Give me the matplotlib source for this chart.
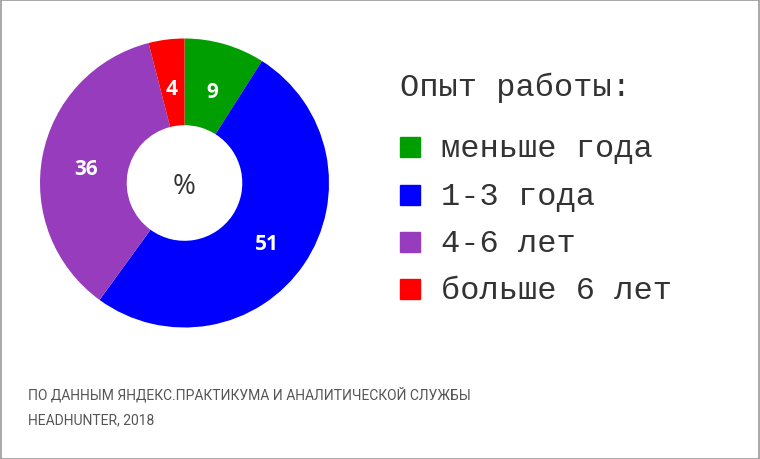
import matplotlib
matplotlib.use("Agg")
import matplotlib.pyplot as plt
from matplotlib.patches import Rectangle
from matplotlib import font_manager

# данные
categories = ["меньше года", "1-3 года", "4-6 лет", "больше 6 лет"]
values = [9, 51, 36, 4]
colors = ["#009e00", "#0000ff", "#963cbd", "#ff0000"]
legend_title = "Опыт работы:"
center_text = "%"
footer = "ПО ДАННЫМ ЯНДЕКС.ПРАКТИКУМА И АНАЛИТИЧЕСКОЙ СЛУЖБЫ\nHEADHUNTER, 2018"

# узкий шрифт для подписи, если есть
installed = {f.name for f in font_manager.fontManager.ttflist}
if "Liberation Sans Narrow" in installed:
    footer_font, footer_size = "Liberation Sans Narrow", 12.5
else:
    footer_font, footer_size = "Roboto", 10

W, H = 760, 460
fig = plt.figure(figsize=(W / 100, H / 100), dpi=100)

# бублик: центр (184, 184) px, радиус 144 px
cx, cy, r = 184.5, 184, 144.5
ax = fig.add_axes([(cx - r) / W, (H - cy - r) / H, 2 * r / W, 2 * r / H])
wedges, _, autotexts = ax.pie(
    values, colors=colors, startangle=90, counterclock=False,
    wedgeprops=dict(width=0.6, linewidth=0),
    autopct=lambda p: f"{p:.0f}", pctdistance=0.69,
    textprops=dict(color="white", fontsize=15, fontweight="bold", family="Open Sans"),
)
for t in autotexts:
    x, y = t.get_position()
    t.set_position((x, y - 0.03))
ax.text(0, -0.02, center_text, ha="center", va="center", fontsize=20,
        color="#333333", family="Open Sans")
ax.set_xlim(-1, 1)
ax.set_ylim(-1, 1)
ax.set_aspect("equal")
ax.axis("off")

# легенда
mono = "Liberation Mono"
fig.text(400 / W, 1 - 88 / H, legend_title, fontsize=23, family=mono,
         color="#333333", ha="left", va="center")
row_y = [148, 196, 243, 290]
for cat, col, y in zip(categories, colors, row_y):
    fig.patches.append(Rectangle((400 / W, 1 - (y + 10) / H), 20 / W, 20 / H,
                                 transform=fig.transFigure, color=col))
    fig.text(441 / W, 1 - (y + 1) / H, cat, fontsize=23, family=mono,
             color="#333333", ha="left", va="center")

# подпись
fig.text(28 / W, 1 - 407 / H, footer, fontsize=footer_size, family=footer_font,
         color="#555555", ha="left", va="center", linespacing=1.95)

# рамка
fig.patches.append(Rectangle((0.5 / W, 0.5 / H), 1 - 1.5 / W, 1 - 1.5 / H,
                             transform=fig.transFigure, fill=False,
                             edgecolor="#999999", linewidth=1.2))

fig.savefig("out.png", dpi=100)
